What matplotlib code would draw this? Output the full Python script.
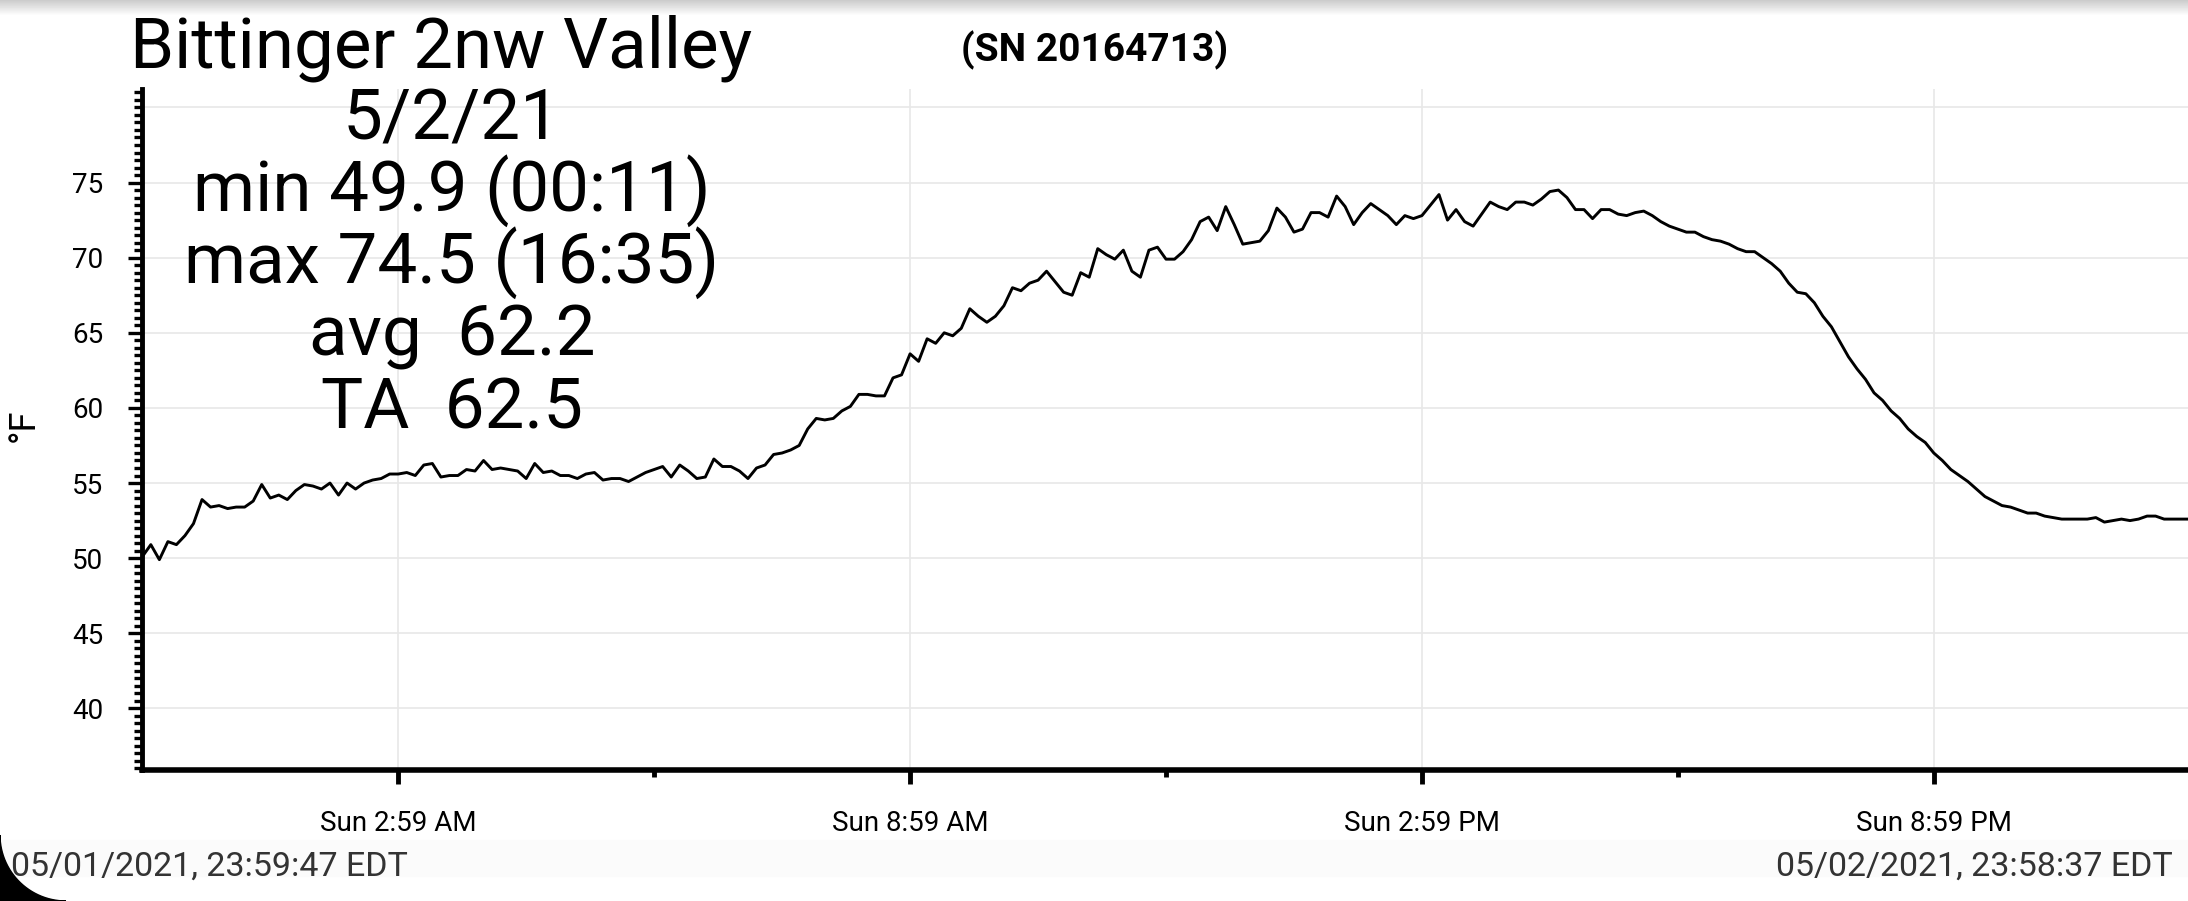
import numpy as np
import matplotlib.pyplot as plt
from matplotlib.patches import Rectangle, Polygon
from matplotlib.ticker import MultipleLocator

plt.rcParams['font.family'] = ['Roboto', 'DejaVu Sans']

# lecturas cada 6 minutos desde 05/01/2021 23:59:47
intervalo_h = 0.1
temps = [
    50.1, 50.9, 49.9, 51.1, 50.9, 51.5, 52.3, 53.9, 53.4, 53.5,
    53.3, 53.4, 53.4, 53.8, 54.9, 54.0, 54.2, 53.9, 54.5, 54.9,
    54.8, 54.6, 55.0, 54.2, 55.0, 54.6, 55.0, 55.2, 55.3, 55.6,
    55.6, 55.7, 55.5, 56.2, 56.3, 55.4, 55.5, 55.5, 55.9, 55.8,
    56.5, 55.9, 56.0, 55.9, 55.8, 55.3, 56.3, 55.7, 55.8, 55.5,
    55.5, 55.3, 55.6, 55.7, 55.2, 55.3, 55.3, 55.1, 55.4, 55.7,
    55.9, 56.1, 55.4, 56.2, 55.8, 55.3, 55.4, 56.6, 56.1, 56.1,
    55.8, 55.3, 56.0, 56.2, 56.9, 57.0, 57.2, 57.5, 58.6, 59.3,
    59.2, 59.3, 59.8, 60.1, 60.9, 60.9, 60.8, 60.8, 62.0, 62.2,
    63.6, 63.1, 64.6, 64.3, 65.0, 64.8, 65.3, 66.6, 66.1, 65.7,
    66.1, 66.8, 68.0, 67.8, 68.3, 68.5, 69.1, 68.4, 67.7, 67.5,
    69.0, 68.7, 70.6, 70.2, 69.9, 70.5, 69.1, 68.7, 70.5, 70.7,
    69.9, 69.9, 70.4, 71.2, 72.4, 72.7, 71.8, 73.4, 72.2, 70.9,
    71.0, 71.1, 71.8, 73.3, 72.7, 71.7, 71.9, 73.0, 73.0, 72.7,
    74.1, 73.4, 72.2, 73.0, 73.6, 73.2, 72.8, 72.2, 72.8, 72.6,
    72.8, 73.5, 74.2, 72.5, 73.2, 72.4, 72.1, 72.9, 73.7, 73.4,
    73.2, 73.7, 73.7, 73.5, 73.9, 74.4, 74.5, 74.0, 73.2, 73.2,
    72.6, 73.2, 73.2, 72.9, 72.8, 73.0, 73.1, 72.8, 72.4, 72.1,
    71.9, 71.7, 71.7, 71.4, 71.2, 71.1, 70.9, 70.6, 70.4, 70.4,
    70.0, 69.6, 69.1, 68.3, 67.7, 67.6, 67.0, 66.1, 65.4, 64.4,
    63.4, 62.6, 61.9, 61.0, 60.5, 59.8, 59.3, 58.6, 58.1, 57.7,
    57.0, 56.5, 55.9, 55.5, 55.1, 54.6, 54.1, 53.8, 53.5, 53.4,
    53.2, 53.0, 53.0, 52.8, 52.7, 52.6, 52.6, 52.6, 52.6, 52.7,
    52.4, 52.5, 52.6, 52.5, 52.6, 52.8, 52.8, 52.6, 52.6, 52.6,
    52.6,
]
horas = np.arange(len(temps)) * intervalo_h

duracion_h = 23.98
ticks_mayores = [3, 9, 15, 21]
etiquetas_x = ['Sun 2:59 AM', 'Sun 8:59 AM', 'Sun 2:59 PM', 'Sun 8:59 PM']
ticks_menores = [6, 12, 18]
ticks_y = [40, 45, 50, 55, 60, 65, 70, 75]

titulo = 'Bittinger 2nw Valley'
serie = '(SN 20164713)'
resumen = ['5/2/21', 'min 49.9 (00:11)', 'max 74.5 (16:35)', 'avg  62.2', 'TA  62.5']
inicio = '05/01/2021, 23:59:47 EDT'
fin = '05/02/2021, 23:58:37 EDT'

W, H = 2188, 901
fig = plt.figure(figsize=(W / 100, H / 100), dpi=100)

# franja gris muy clara abajo
fig.patches.append(Rectangle((0, 1 - 876 / H), 1, 36 / H, transform=fig.transFigure,
                             color='#fbfbfb', zorder=0))

ax = fig.add_axes([142.3 / W, 1 - 770 / H, 1 - 142.3 / W, (770 - 89.4) / H])
ax.plot(horas, temps, color='black', lw=2.1, zorder=3)
ax.set_xlim(0, duracion_h)
ax.set_ylim(35.9, 81.2)

ax.set_xticks(ticks_mayores)
ax.set_xticklabels(etiquetas_x)
ax.set_xticks(ticks_menores, minor=True)
ax.set_yticks(ticks_y)
ax.yaxis.set_minor_locator(MultipleLocator(0.5))

ax.grid(True, which='major', color='#e8e8e8', lw=1.2)
ax.axhline(80, color='#e8e8e8', lw=1.2, zorder=1)
ax.set_axisbelow(True)

for lado in ['top', 'right']:
    ax.spines[lado].set_visible(False)
ax.spines['left'].set_linewidth(3.5)
ax.spines['bottom'].set_linewidth(4)

ax.tick_params(axis='y', which='major', length=10, width=2.4, pad=18, labelsize=20)
ax.tick_params(axis='y', which='minor', length=6, width=2.4)
ax.tick_params(axis='x', which='major', length=10, width=3.5, pad=19, labelsize=20)
ax.tick_params(axis='x', which='minor', length=5, width=3.5)

fig.text(24 / W, 1 - 425 / H, '°F', rotation=90, ha='center', va='center', size=26)

fig.text(130 / W, 1 - 67 / H, titulo, size=51, va='baseline')
fig.text(961 / W, 1 - 61 / H, serie, size=28, weight='bold', va='baseline')

bases = [139, 211, 283, 356, 429]
for linea, b in zip(resumen, bases):
    fig.text(452 / W, 1 - b / H, linea, size=51, ha='center', va='baseline')

fig.text(11 / W, 1 - 876 / H, inicio, size=24.5, color='#333333', va='baseline')
fig.text(2173 / W, 1 - 876 / H, fin, size=24.5, color='#333333', va='baseline', ha='right')

# sombra arriba
ax_sombra = fig.add_axes([0, 1 - 16 / H, 1, 16 / H])
ax_sombra.imshow(np.linspace(0.8, 1.0, 16).reshape(-1, 1), cmap='gray', vmin=0, vmax=1,
                 aspect='auto', extent=[0, 1, 0, 1])
ax_sombra.axis('off')

# esquina negra de la pantalla
R = 66
ang = np.linspace(0, np.pi / 2, 30)
arco = [((R - R * np.cos(a)) / W, (R - R * np.sin(a)) / H) for a in ang]
fig.patches.append(Polygon([(0, 0)] + arco, closed=True, transform=fig.transFigure,
                           color='black', zorder=5))

fig.savefig('out.png', dpi=100)
